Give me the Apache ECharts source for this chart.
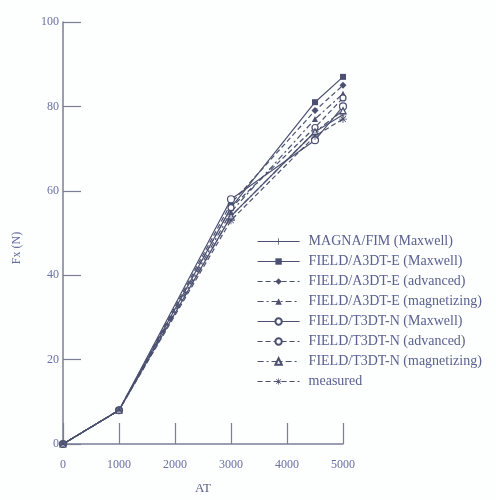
<!DOCTYPE html>
<html>
<head>
<meta charset="utf-8">
<script src="https://cdn.jsdelivr.net/npm/echarts@6/dist/echarts.min.js"></script>
<style>html,body{margin:0;padding:0;background:#fdfefe;}#c{width:496px;height:500px;}</style>
</head>
<body>
<div id="c"></div>
<script>
const xValues = [0, 1000, 3000, 4500, 5000];
const xTicks = [0, 1000, 2000, 3000, 4000, 5000];
const yTicks = [0, 20, 40, 60, 80, 100];
const seriesNames = [
  'MAGNA/FIM (Maxwell)',
  'FIELD/A3DT-E (Maxwell)',
  'FIELD/A3DT-E (advanced)',
  'FIELD/A3DT-E (magnetizing)',
  'FIELD/T3DT-N (Maxwell)',
  'FIELD/T3DT-N (advanced)',
  'FIELD/T3DT-N (magnetizing)',
  'measured'
];
const magnaMaxwell    = [0, 8, 54, 74, 78];
const a3dtMaxwell     = [0, 8, 56, 81, 87];
const a3dtAdvanced    = [0, 8, 57, 79, 85];
const a3dtMagnetizing = [0, 8, 55, 77, 83];
const t3dtMaxwell     = [0, 8, 58, 72, 80];
const t3dtAdvanced    = [0, 8, 56, 75, 82];
const t3dtMagnetizing = [0, 8, 54, 74, 79];
const measured        = [0, 8, 53, 73, 77];

const ink = '#4b5070';
const plusPath = 'path://M4.4,0H5.6V4.4H10V5.6H5.6V10H4.4V5.6H0V4.4H4.4Z';
const starPath = 'path://M4.5,0H5.5V10H4.5Z M0,4.5H10V5.5H0Z M1,1.7L1.7,1L9,8.3L8.3,9Z M8.3,1L9,1.7L1.7,9L1,8.3Z';
const dashDot = [6, 3, 2, 3];
const dashed = [5, 3];

function mk(name, data, symbol, open, type, size) {
  return {
    name: name,
    type: 'line',
    data: xValues.map((x, i) => [x, data[i]]),
    symbol: symbol,
    symbolSize: size || 6,
    showAllSymbol: true,
    lineStyle: { color: ink, width: 1.2, type: type },
    itemStyle: open ? { color: '#ffffff', borderColor: ink, borderWidth: 1.2 } : { color: ink, borderColor: ink, borderWidth: 0 },
    emphasis: { disabled: true },
    animation: false
  };
}

const series = [
  mk(seriesNames[0], magnaMaxwell, plusPath, false, 'solid', 7),
  mk(seriesNames[1], a3dtMaxwell, 'rect', false, 'solid', 6),
  mk(seriesNames[2], a3dtAdvanced, 'diamond', false, dashed, 7),
  mk(seriesNames[3], a3dtMagnetizing, 'triangle', false, dashDot, 6),
  mk(seriesNames[4], t3dtMaxwell, 'circle', true, 'solid', 7),
  mk(seriesNames[5], t3dtAdvanced, 'circle', true, dashed, 6),
  mk(seriesNames[6], t3dtMagnetizing, 'triangle', true, dashDot, 6),
  mk(seriesNames[7], measured, starPath, false, dashed, 8)
];

const chart = echarts.init(document.getElementById('c'), null, { renderer: 'canvas' });
chart.setOption({
  backgroundColor: '#fdfefe',
  animation: false,
  textStyle: { fontFamily: 'Liberation Serif' },
  grid: { left: 63, right: 153, top: 22, bottom: 55, containLabel: false },
  legend: {
    orient: 'vertical',
    left: 257,
    top: 234,
    itemWidth: 42,
    itemHeight: 8,
    itemGap: 5,
    padding: 0,
    data: seriesNames,
    lineStyle: { width: 1.2 },
    textStyle: { fontFamily: 'Liberation Serif', fontSize: 14, color: '#5a6090', padding: [0, 0, 0, 4], lineHeight: 15 }
  },
  xAxis: {
    type: 'value',
    min: xTicks[0],
    max: xTicks[xTicks.length - 1],
    interval: 1000,
    name: 'AT',
    nameLocation: 'middle',
    nameGap: 38,
    nameTextStyle: { fontFamily: 'Liberation Serif', fontSize: 13, color: '#5a6090' },
    axisLine: { lineStyle: { color: '#7a7f95', width: 1.5 } },
    axisTick: { inside: true, length: 21, lineStyle: { color: '#7a7f95', width: 1.2 } },
    axisLabel: { margin: 15, fontFamily: 'Liberation Serif', fontSize: 12, color: '#6a70a0', formatter: v => String(v) },
    splitLine: { show: false }
  },
  yAxis: {
    type: 'value',
    min: yTicks[0],
    max: yTicks[yTicks.length - 1],
    interval: 20,
    name: 'Fx (N)',
    nameLocation: 'middle',
    nameGap: 40,
    nameRotate: 90,
    nameTextStyle: { fontFamily: 'Liberation Serif', fontSize: 12, color: '#6a70a0', padding: [0, 0, 0, -30] },
    axisLine: { show: true, lineStyle: { color: '#7a7f95', width: 1.5 } },
    axisTick: { show: true, inside: true, length: 18, lineStyle: { color: '#7a7f95', width: 1.2 } },
    axisLabel: { margin: 4, fontFamily: 'Liberation Serif', fontSize: 12, color: '#6a70a0', formatter: v => String(v) },
    splitLine: { show: false }
  },
  series: series
});
</script>
</body>
</html>
